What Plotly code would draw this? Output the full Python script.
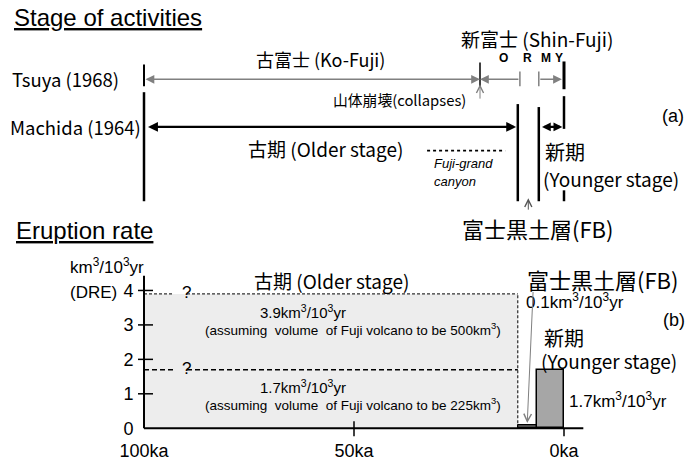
import plotly.graph_objects as go

# ---------------- data ----------------
# Stage boundaries in ka (thousand years ago)
TSUYA_KO_FUJI = [100, 20]          # 古富士 (Ko-Fuji), Tsuya (1968)
TSUYA_SHIN_O = [20, 10.5]          # 新富士, O period
TSUYA_SHIN_MY = [6, 0]             # 新富士, M-Y periods
TSUYA_LETTERS = ["O", "R", "M", "Y"]
TSUYA_LETTER_AGES = [14.5, 8.6, 4.3, 1.2]
COLLAPSE_AGE = 20                  # 山体崩壊 (collapses)

MACHIDA_BOUNDS = [100, 11, 6, 0]   # 古期 start, FB start, 新期 start, present
CANYON_SPAN = [32.6, 14.0]         # Fuji-grand canyon

# Eruption rates, km3/10^3yr (DRE)
RATE_PERIODS = [100, 11, 6.5, 0]   # older stage | FB | younger stage
RATE_OLDER = [3.9, 1.7]
OLDER_VOLUMES = [500, 225]         # km3 assumed for Fuji volcano
RATE_FB = 0.1
RATE_YOUNGER = 1.7

Y_TICKS = [0, 1, 2, 3, 4]
X_TICKS = [100, 50, 0]
X_TICK_TEXT = ["100ka", "50ka", "0ka"]

# ---------------- layout helpers ----------------
W, H = 687, 461
X_RANGE = [134.2857, -29.2857]     # ka, reversed (past on the left)
Y_RANGE = [-0.8345, 12.4317]       # rate axis spanning the whole page
PX_PER_KA = 4.2

JP = "Noto Sans CJK JP"
EN = "Liberation Sans"
GRAY = "#808080"


def xp(px):
    return px / W


def yp(py):
    return 1 - py / H


def unit(v):
    return f"{v}km<sup>3</sup>/10<sup>3</sup>yr"


fig = go.Figure()
ann = []


def text(s, x, y, size=18, font=JP, xanchor="center", style=None, color="black"):
    d = dict(text=s, x=xp(x), y=yp(y), xref="paper", yref="paper",
             xanchor=xanchor, yanchor="middle", showarrow=False,
             font=dict(family=font, size=size, color=color))
    if style:
        d["font"]["style"] = style
    ann.append(d)


def seg(xs, ys, color="black", width=2, dash=None, yaxis="y2"):
    fig.add_trace(go.Scatter(x=xs, y=ys, mode="lines", yaxis=yaxis,
                             line=dict(color=color, width=width, dash=dash),
                             hoverinfo="skip", showlegend=False))


def arrow(x0, x1, y, color="black", width=2, size=1.0, head=2, both=False,
          y1=None, yref="y2"):
    """Arrow from (x0, y) to (x1, y1 or y) in ka / row coordinates."""
    ann.append(dict(x=x1, y=y if y1 is None else y1, ax=x0, ay=y,
                    xref="x", yref=yref, axref="x", ayref=yref,
                    text="", showarrow=True, arrowhead=head, arrowsize=size,
                    arrowwidth=width, arrowcolor=color, standoff=0,
                    startstandoff=0,
                    arrowside="end+start" if both else "end",
                    startarrowhead=head, startarrowsize=size))


# ================= (a) Stage of activities =================
text("<u>Stage of activities</u>", 12, 18, size=24, font=EN, xanchor="left")

# Tsuya (1968) row
TSUYA_ROW = 80
text("Tsuya (1968)", 10, TSUYA_ROW, size=18.5, xanchor="left")
seg([TSUYA_KO_FUJI[0]] * 2, [65, 87], width=2)
arrow(TSUYA_KO_FUJI[0], TSUYA_KO_FUJI[1], TSUYA_ROW, color=GRAY, width=1.6,
      size=1.1, both=True)
seg([TSUYA_SHIN_O[0]] * 2, [63, 88], width=1.5)
arrow(TSUYA_SHIN_O[1], TSUYA_SHIN_O[0], TSUYA_ROW, color=GRAY, width=1.6, size=1.1)
seg([TSUYA_SHIN_O[1]] * 2, [72, 87], color=GRAY, width=1.5)
seg([TSUYA_SHIN_MY[0]] * 2, [72, 87], color=GRAY, width=1.5)
arrow(TSUYA_SHIN_MY[0], TSUYA_SHIN_MY[1] + 0.5, TSUYA_ROW, color=GRAY, width=1.6,
      size=1.1)
seg([TSUYA_SHIN_MY[1]] * 2, [62, 90], width=3)
text("古富士 (Ko-Fuji)", 320, 60, size=18)
text("新富士 (Shin-Fuji)", 537, 39, size=19)
for lab, age in zip(TSUYA_LETTERS, TSUYA_LETTER_AGES):
    ann.append(dict(text=f"<b>{lab}</b>", x=age, y=58, xref="x", yref="y2",
                    showarrow=False, font=dict(family=EN, size=12, color="black")))

# collapses
arrow(COLLAPSE_AGE, COLLAPSE_AGE, 101, color=GRAY, width=1, size=1.4, head=5,
      y1=85)
text("山体崩壊(collapses)", 468, 100, size=14.8, xanchor="right")
text("(a)", 673, 117, size=18, font=EN)

# Machida (1964) row
MACHIDA_ROW = 128
text("Machida (1964)", 8, MACHIDA_ROW, size=18.5, xanchor="left")
b0, b1, b2, b3 = MACHIDA_BOUNDS
seg([b0, b0, None, b1, b1, None, b2, b2], [93, 203, None, 105, 203, None, 108, 203],
    width=2.5)
seg([b3, b3, None, b3, b3], [97, 130, None, 192, 203], width=2.5)
arrow(b0 - 0.6, b1 + 0.4, MACHIDA_ROW, width=2.2, size=0.9, both=True)
arrow(b2 - 0.4, b3 + 0.4, MACHIDA_ROW, width=2.2, size=0.8, both=True)
text("古期 (Older stage)", 325, 150, size=19)
seg(CANYON_SPAN, [152, 152], width=1.8, dash="dot")
text("Fuji-grand", 432, 165, size=13, font=EN, xanchor="left", style="italic")
text("canyon", 432, 183, size=13, font=EN, xanchor="left", style="italic")
text("新期", 543, 153, size=20, xanchor="left")
text("(Younger stage)", 541, 180, size=19, xanchor="left")
fb_mid = (b1 + b2) / 2
arrow(fb_mid, fb_mid, 213, color="#555555", width=1, size=1.4, head=5, y1=200)
text("富士黒土層(FB)", 537, 230, size=22)

# ================= (b) Eruption rate =================
text("<u>Eruption rate</u>", 14, 233, size=24, font=EN, xanchor="left")

older_w = RATE_PERIODS[0] - RATE_PERIODS[1]
fb_w = RATE_PERIODS[1] - RATE_PERIODS[2]
yng_w = RATE_PERIODS[2] - RATE_PERIODS[3]
fig.add_trace(go.Bar(x=[RATE_PERIODS[1] + older_w / 2], y=[RATE_OLDER[0]],
                     width=[older_w], marker=dict(color="#ededed", line=dict(width=0)),
                     hoverinfo="skip", showlegend=False))
fig.add_trace(go.Bar(x=[RATE_PERIODS[2] + fb_w / 2], y=[RATE_FB], width=[fb_w],
                     marker=dict(color="#4d4d4d", line=dict(color="black", width=1)),
                     hoverinfo="skip", showlegend=False))
fig.add_trace(go.Bar(x=[RATE_PERIODS[3] + yng_w / 2], y=[RATE_YOUNGER], width=[yng_w],
                     marker=dict(color="#a6a6a6", line=dict(color="black", width=1.5)),
                     hoverinfo="skip", showlegend=False))

# dashed rate levels of the older stage, broken by a question mark
Q_PX = 180
q_gap = [(564 - (Q_PX - 7)) / PX_PER_KA, (564 - (Q_PX + 7)) / PX_PER_KA]
for r, dash, w in zip(RATE_OLDER, ["3px,2px", "5px,3px"], [1, 1.5]):
    seg([RATE_PERIODS[0], q_gap[0], None, q_gap[1], RATE_PERIODS[1]],
        [r, r, None, r, r], width=w, dash=dash, yaxis="y")
    ann.append(dict(text="?", x=xp(Q_PX), y=r, xref="paper", yref="y",
                    yanchor="middle", showarrow=False, yshift=1,
                    font=dict(family=EN, size=17, color="black")))
seg([RATE_PERIODS[1]] * 2, [0, RATE_OLDER[0]], width=1, dash="3px,2px", yaxis="y")

# axis lines and cross ticks
seg([X_TICKS[0], -4.6], [0, 0], width=2, yaxis="y")
seg([X_TICKS[0]] * 2, [0, 4.43], width=2, yaxis="y")
yt_x, yt_y = [], []
for v in Y_TICKS[1:]:
    yt_x += [X_TICKS[0] + 6 / PX_PER_KA, X_TICKS[0] - 9 / PX_PER_KA, None]
    yt_y += [v, v, None]
seg(yt_x, yt_y, width=1.5, yaxis="y")
per_px_y = (Y_RANGE[1] - Y_RANGE[0]) / H
seg([X_TICKS[1], X_TICKS[1], None, X_TICKS[2], X_TICKS[2]],
    [7 * per_px_y, -8 * per_px_y, None, 0, -8 * per_px_y], width=1.5, yaxis="y")

text("km<sup>3</sup>/10<sup>3</sup>yr", 68, 268, size=17, font=EN, xanchor="left")
text("(DRE)", 68, 295, size=17, font=EN, xanchor="left")

text("古期 (Older stage)", 331, 283, size=19)
text(unit(RATE_OLDER[0]), 258, 314, size=15, font=EN, xanchor="left")
text(f"(assuming  volume  of Fuji volcano to be {OLDER_VOLUMES[0]}km<sup>3</sup>)",
     353, 332, size=13.5, font=EN)
text(unit(RATE_OLDER[1]), 258, 390, size=15, font=EN, xanchor="left")
text(f"(assuming  volume  of Fuji volcano to be {OLDER_VOLUMES[1]}km<sup>3</sup>)",
     353, 408, size=13.5, font=EN)

text("富士黒土層(FB)", 525, 281, size=22, xanchor="left")
text(unit(RATE_FB), 524, 304, size=17, font=EN, xanchor="left")
fb_bar_mid = RATE_PERIODS[2] + fb_w / 2
ann.append(dict(x=fb_bar_mid, y=RATE_FB + 0.05, ax=fb_bar_mid - 1.4, ay=4.0,
                xref="x", yref="y", axref="x", ayref="y", text="", showarrow=True,
                arrowhead=5, arrowsize=1.5, arrowwidth=1, arrowcolor=GRAY,
                standoff=0))
text("(b)", 674, 323, size=18, font=EN)
text("新期", 542, 340, size=20, xanchor="left")
text("(Younger stage)", 539, 364, size=19, xanchor="left")
text(unit(RATE_YOUNGER), 567, 403, size=17, font=EN, xanchor="left")

fig.update_layout(
    width=W, height=H, margin=dict(l=0, r=0, t=0, b=0),
    paper_bgcolor="white", plot_bgcolor="white",
    barmode="overlay", bargap=0,
    annotations=ann,
    xaxis=dict(range=X_RANGE, domain=[0, 1], anchor="free", position=1 - 432 / H,
               tickvals=X_TICKS, ticktext=X_TICK_TEXT, ticks="outside", ticklen=6,
               tickcolor="rgba(0,0,0,0)", showgrid=False, zeroline=False,
               showline=False, tickfont=dict(family=EN, size=18, color="black")),
    yaxis=dict(range=Y_RANGE, domain=[0, 1], anchor="free", position=143 / W,
               tickvals=Y_TICKS, ticks="outside", ticklen=6,
               tickcolor="rgba(0,0,0,0)", showgrid=False, zeroline=False,
               showline=False, tickfont=dict(family=EN, size=18, color="black")),
    yaxis2=dict(range=[H, 0], overlaying="y", anchor="x", visible=False),
)

fig.write_html("out.html")
